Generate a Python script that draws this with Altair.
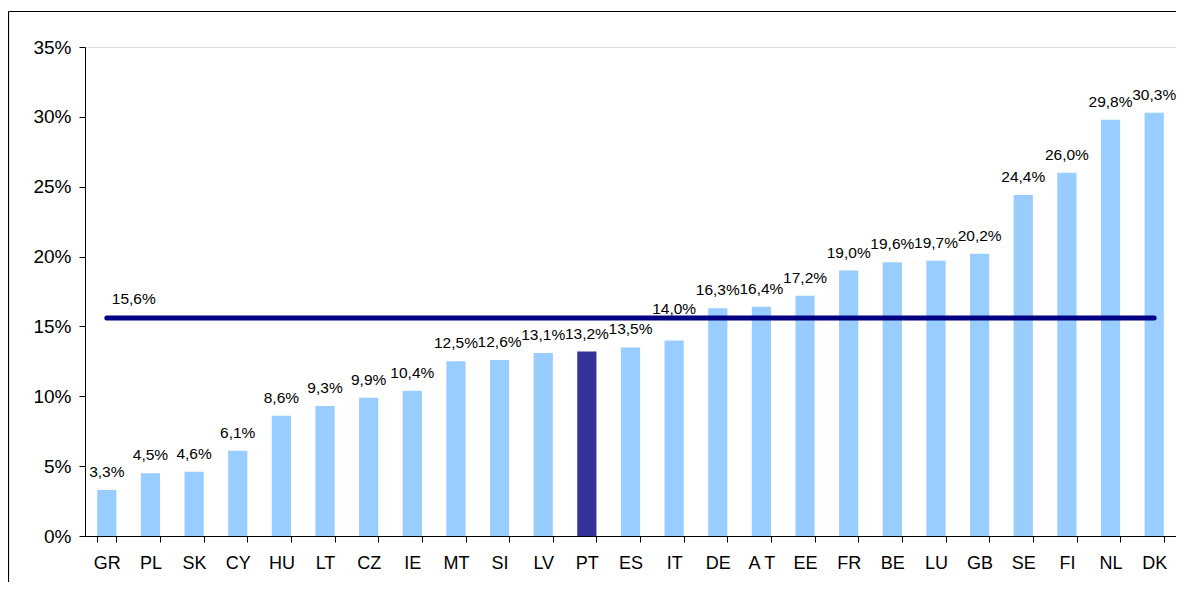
import altair as alt
import pandas as pd

countries = ["GR", "PL", "SK", "CY", "HU", "LT", "CZ", "IE", "MT", "SI", "LV", "PT", "ES", "IT",
             "DE", "AT", "EE", "FR", "BE", "LU", "GB", "SE", "FI", "NL", "DK"]
values = [3.3, 4.5, 4.6, 6.1, 8.6, 9.3, 9.9, 10.4, 12.5, 12.6, 13.1, 13.2, 13.5, 14.0,
          16.3, 16.4, 17.2, 19.0, 19.6, 19.7, 20.2, 24.4, 26.0, 29.8, 30.3]
x_labels = ["GR", "PL", "SK", "CY", "HU", "LT", "CZ", "IE", "MT", "SI", "LV", "PT", "ES", "IT",
            "DE", "A T", "EE", "FR", "BE", "LU", "GB", "SE", "FI", "NL", "DK"]
highlight = "PT"
lifted_label = "IT"   # label moved above the average line in the original
eu_average = 15.6

df = pd.DataFrame({"country": countries, "value": values})
df["hl"] = df["country"] == highlight
avg_df = pd.DataFrame({"x": [countries[0]], "x2": [countries[-1]], "y": [eu_average]})

font = "Liberation Sans"
W, H = 1091, 489

xscale = alt.Scale(domain=countries, paddingInner=0.56, paddingOuter=0.28)
yscale = alt.Scale(domain=[0, 35], nice=False)

label_map = "{" + ",".join(f"'{c}':'{l}'" for c, l in zip(countries, x_labels)) + "}"

base = alt.Chart(df)

bars = base.mark_bar().encode(
    x=alt.X("country:N", scale=xscale, sort=countries, title=None,
            axis=alt.Axis(labelAngle=0, tickBand="extent", tickSize=6, labelPadding=12,
                          labelFontSize=18, labelFont=font, labelColor="#000",
                          domainColor="#000", tickColor="#000",
                          labelExpr=label_map + "[datum.value]")),
    y=alt.Y("value:Q", scale=yscale, title=None,
            axis=alt.Axis(values=[0, 5, 10, 15, 20, 25, 30, 35], labelExpr="datum.value + '%'",
                          grid=False, tickSize=6, labelPadding=8, labelFontSize=19,
                          labelFont=font, labelColor="#000", domainColor="#000",
                          tickColor="#000")),
    color=alt.Color("hl:N", scale=alt.Scale(domain=[False, True], range=["#99CCFF", "#333399"]),
                    legend=None),
)

lab_expr = "replace(format(datum.value, '.1f'), '.', ',') + '%'"
text_enc = dict(
    x=alt.X("country:N", scale=xscale, sort=countries),
    y=alt.Y("value:Q", scale=yscale),
    text="lab:N",
)
texts = base.transform_calculate(lab=lab_expr).transform_filter(
    f"datum.country != '{lifted_label}'"
).mark_text(font=font, fontSize=15.5, baseline="alphabetic", dy=-13, color="#000").encode(**text_enc)
texts_lift = base.transform_calculate(lab=lab_expr).transform_filter(
    f"datum.country == '{lifted_label}'"
).mark_text(font=font, fontSize=15.5, baseline="alphabetic", dy=-26, color="#000").encode(**text_enc)

avg_line = alt.Chart(avg_df).mark_rule(color="#000080", strokeWidth=5, strokeCap="round").encode(
    x=alt.X("x:N", scale=xscale, sort=countries),
    x2="x2:N",
    y=alt.Y("y:Q", scale=yscale),
)

avg_text = alt.Chart(avg_df).transform_calculate(
    lab="replace(format(datum.y, '.1f'), '.', ',') + '%'"
).mark_text(font=font, fontSize=15.5, align="left", baseline="alphabetic", dx=5, dy=-14,
            color="#000").encode(
    x=alt.X("x:N", scale=xscale, sort=countries),
    y=alt.Y("y:Q", scale=yscale),
    text="lab:N",
)

frame_left = alt.Chart(avg_df).mark_rule(color="#000", strokeWidth=1.2, clip=False).encode(
    x=alt.value(-76.5), y=alt.value(-35.5), y2=alt.value(800),
)
frame_top = alt.Chart(avg_df).mark_rule(color="#000", strokeWidth=1.2, clip=False).encode(
    x=alt.value(-76.5), x2=alt.value(2000), y=alt.value(-35.5),
)

chart = alt.layer(frame_left, frame_top, bars, avg_line, texts, texts_lift, avg_text).properties(
    width=W, height=H,
    autosize=alt.AutoSizeParams(type="none"),
    padding={"left": 77, "top": 39, "right": 0, "bottom": 46},
).configure_view(stroke=None).configure(background="white")

chart.save("out.html", embed_options={"renderer": "svg", "actions": False})
